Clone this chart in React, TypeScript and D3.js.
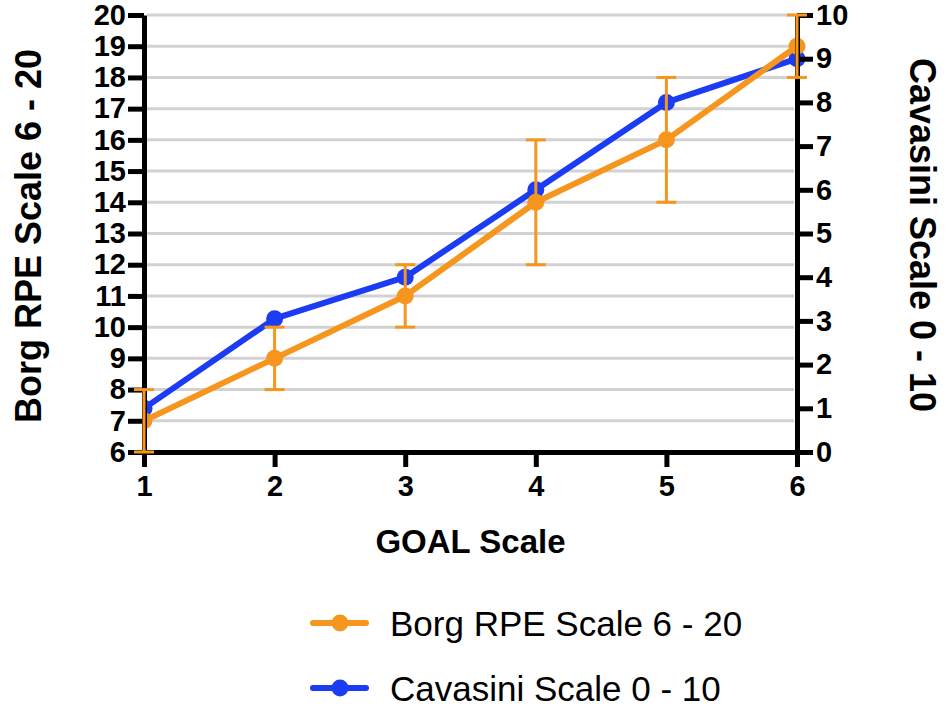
import { useRef, useEffect } from "react";
import * as d3 from "d3";

const goalLevels = [1, 2, 3, 4, 5, 6];
const borgMeans = [7, 9, 11, 14, 16, 19];
const borgErrors = [1, 1, 1, 2, 2, 1];
const cavasiniMeans = [1.0, 3.05, 4.0, 6.0, 8.0, 9.0];
const leftTicks = [6, 7, 8, 9, 10, 11, 12, 13, 14, 15, 16, 17, 18, 19, 20];
const rightTicks = [0, 1, 2, 3, 4, 5, 6, 7, 8, 9, 10];

const ORANGE = "#F7961E";
const BLUE = "#1B3CF2";
const FONT = "'Liberation Sans', Arial, Helvetica, sans-serif";

const width = 950;
const height = 713;
const margin = { top: 15, right: 153, bottom: 261, left: 144 };

export default function App() {
  const svgRef = useRef<SVGSVGElement>(null);

  useEffect(() => {
    if (!svgRef.current) return;
    const svg = d3.select(svgRef.current);
    svg.selectAll("*").remove();

    const x0 = margin.left;
    const x1 = width - margin.right;
    const y0 = height - margin.bottom;
    const y1 = margin.top;

    const xScale = d3.scaleLinear().domain([1, 6]).range([x0, x1]);
    const yLeft = d3.scaleLinear().domain([6, 20]).range([y0, y1]);
    const yRight = d3.scaleLinear().domain([0, 10]).range([y0, y1]);

    svg.append("defs")
      .append("clipPath")
      .attr("id", "plot-clip")
      .append("rect")
      .attr("x", x0)
      .attr("y", 0)
      .attr("width", x1 - x0 + 20)
      .attr("height", y0 + 20);

    // Gridlines
    svg.append("g")
      .selectAll("line")
      .data(leftTicks.filter((t) => t > 6))
      .join("line")
      .attr("x1", x0 + 3)
      .attr("x2", x1 - 3)
      .attr("y1", (d) => yLeft(d))
      .attr("y2", (d) => yLeft(d))
      .attr("stroke", "#d2d2d2")
      .attr("stroke-width", 3);

    const plot = svg.append("g").attr("clip-path", "url(#plot-clip)");

    // Cavasini line
    const blueLine = d3.line<number>()
      .x((_, i) => xScale(goalLevels[i]))
      .y((d) => yRight(d));
    plot.append("path")
      .datum(cavasiniMeans)
      .attr("fill", "none")
      .attr("stroke", BLUE)
      .attr("stroke-width", 6)
      .attr("stroke-linejoin", "round")
      .attr("d", blueLine);
    plot.append("g")
      .selectAll("circle")
      .data(cavasiniMeans)
      .join("circle")
      .attr("cx", (_, i) => xScale(goalLevels[i]))
      .attr("cy", (d) => yRight(d))
      .attr("r", 8.5)
      .attr("fill", BLUE);

    // Borg line
    const orangeLine = d3.line<number>()
      .x((_, i) => xScale(goalLevels[i]))
      .y((d) => yLeft(d));
    plot.append("path")
      .datum(borgMeans)
      .attr("fill", "none")
      .attr("stroke", ORANGE)
      .attr("stroke-width", 6)
      .attr("stroke-linejoin", "round")
      .attr("d", orangeLine);
    plot.append("g")
      .selectAll("circle")
      .data(borgMeans)
      .join("circle")
      .attr("cx", (_, i) => xScale(goalLevels[i]))
      .attr("cy", (d) => yLeft(d))
      .attr("r", 8.5)
      .attr("fill", ORANGE);

    const styleAxis = (axis: d3.Selection<SVGGElement, unknown, null, undefined>, size: number) => {
      axis.select(".domain").attr("stroke", "#000").attr("stroke-width", 5);
      axis.selectAll(".tick line").attr("stroke", "#000").attr("stroke-width", 5);
      axis.selectAll(".tick text")
        .attr("fill", "#000")
        .attr("font-size", size)
        .attr("font-weight", "bold")
        .attr("font-family", FONT);
    };

    // Bottom axis
    svg.append("g")
      .attr("transform", `translate(0,${y0})`)
      .call(d3.axisBottom(xScale).tickValues(goalLevels).tickFormat(d3.format("d")).tickSize(15).tickSizeOuter(0).tickPadding(8))
      .call((a) => styleAxis(a, 29));

    // Left axis
    svg.append("g")
      .attr("transform", `translate(${x0},0)`)
      .call(d3.axisLeft(yLeft).tickValues(leftTicks).tickFormat(d3.format("d")).tickSize(16).tickSizeOuter(0).tickPadding(2))
      .call((a) => styleAxis(a, 29));

    // Right axis
    svg.append("g")
      .attr("transform", `translate(${x1},0)`)
      .call(d3.axisRight(yRight).tickValues(rightTicks).tickFormat(d3.format("d")).tickSize(16).tickSizeOuter(0).tickPadding(3))
      .call((a) => styleAxis(a, 29));

    // Error bars (on top of the axes, as in the original)
    const eb = svg.append("g").attr("stroke", ORANGE).attr("stroke-width", 3);
    borgMeans.forEach((m, i) => {
      const cx = xScale(goalLevels[i]);
      const lo = yLeft(m - borgErrors[i]);
      const hi = yLeft(m + borgErrors[i]);
      eb.append("line").attr("x1", cx).attr("x2", cx).attr("y1", lo).attr("y2", hi);
      eb.append("line").attr("x1", cx - 10).attr("x2", cx + 10).attr("y1", lo).attr("y2", lo);
      eb.append("line").attr("x1", cx - 10).attr("x2", cx + 10).attr("y1", hi).attr("y2", hi);
    });

    // Axis titles
    svg.append("text")
      .attr("x", (x0 + x1) / 2)
      .attr("y", 553)
      .attr("text-anchor", "middle")
      .attr("font-family", FONT)
      .attr("font-weight", "bold")
      .attr("font-size", 33)
      .text("GOAL Scale");

    svg.append("text")
      .attr("transform", `translate(41,236) rotate(-90)`)
      .attr("text-anchor", "middle")
      .attr("font-family", FONT)
      .attr("font-weight", "bold")
      .attr("font-size", 36)
      .text("Borg RPE Scale 6 - 20");

    svg.append("text")
      .attr("transform", `translate(910,235) rotate(90)`)
      .attr("text-anchor", "middle")
      .attr("font-family", FONT)
      .attr("font-weight", "bold")
      .attr("font-size", 36)
      .text("Cavasini Scale 0 - 10");

    // Legend
    const legendItems = [
      { label: "Borg RPE Scale 6 - 20", color: ORANGE, y: 623 },
      { label: "Cavasini Scale 0 - 10", color: BLUE, y: 688 },
    ];
    const lg = svg.append("g");
    legendItems.forEach((item) => {
      lg.append("line")
        .attr("x1", 313).attr("x2", 366)
        .attr("y1", item.y).attr("y2", item.y)
        .attr("stroke", item.color)
        .attr("stroke-width", 6)
        .attr("stroke-linecap", "round");
      lg.append("circle").attr("cx", 340).attr("cy", item.y).attr("r", 8.5).attr("fill", item.color);
      lg.append("text")
        .attr("x", 390)
        .attr("y", item.y)
        .attr("dy", "0.36em")
        .attr("font-family", FONT)
        .attr("font-size", 35)
        .attr("fill", "#000")
        .text(item.label);
    });
  }, []);

  return (
    <svg
      ref={svgRef}
      width={width}
      height={height}
      style={{ position: "absolute", left: 0, top: 0, background: "#fff", display: "block" }}
    />
  );
}
